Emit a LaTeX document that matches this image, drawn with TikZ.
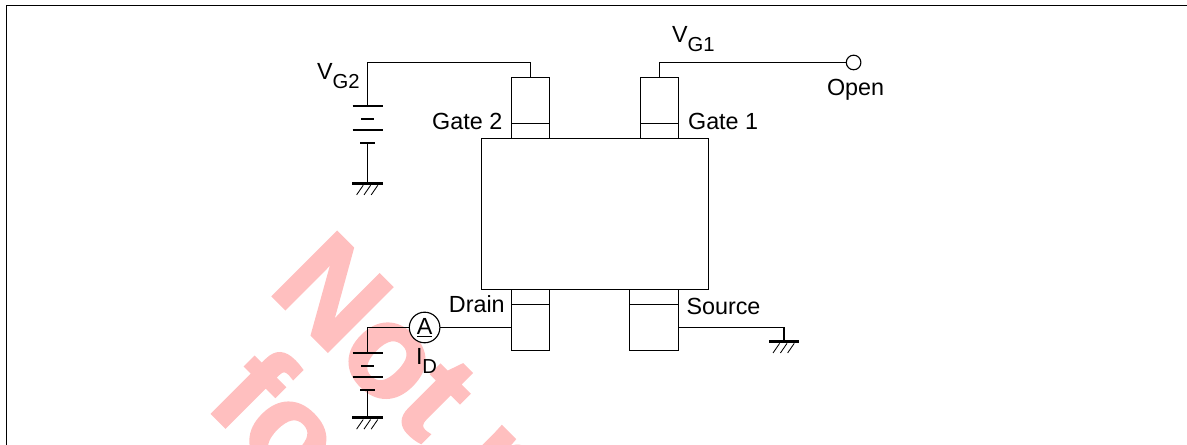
\documentclass[tikz,border=0pt]{standalone}
\usepackage{fontspec}
\setmainfont{Liberation Sans}
\newfontfamily\stampfont[UprightFont=* Bold, FakeBold=2.5]{Liberation Sans}
\usetikzlibrary{positioning}
\definecolor{stamp}{HTML}{FFBFBF}
\newcommand{\lowered}[1]{\raisebox{-6pt}{\fontsize{14.4}{16}\selectfont #1}}
\tikzset{
  wire/.style={line width=.8pt},
  chip/.style={rectangle, draw=black, line width=.8pt, minimum width=5.675cm, minimum height=3.775cm, inner sep=0, outer sep=0},
  pin/.style={rectangle, draw=black, line width=.8pt, minimum width=.95cm, inner sep=0, outer sep=0},
  tag/.style={inner sep=0, outer sep=0, font=\fontsize{16.6}{20}\selectfont},
  meter/.style={circle, draw=black, fill=white, line width=.8pt, minimum size=.765cm, inner sep=0, outer sep=0, font=\fontsize{16.6}{20}\selectfont},
  terminal/.style={circle, draw=black, line width=.8pt, minimum size=.365cm, inner sep=0, outer sep=0},
  stamptext/.style={text=stamp, rotate=-45, anchor=base west, inner sep=0, font=\fontsize{93}{110}\stampfont},
  battery/.style={
    minimum width=.75cm, minimum height=.91cm, inner sep=0, outer sep=0, append after command={
      \pgfextra{
        \draw[line width=1.4pt] (\tikzlastnode.north west) -- (\tikzlastnode.north east);
        \draw[line width=1.4pt] (\tikzlastnode.north) ++(-.16,-.31) -- ++(.32,0);
        \draw[line width=1.4pt] (\tikzlastnode.north west) ++(0,-.6) -- ++(.75,0);
        \draw[line width=1.4pt] (\tikzlastnode.south) ++(-.19,0) -- ++(.38,0);
      }
    }
  },
  ground/.style={
    rectangle, fill=black, minimum width=.77cm, minimum height=.085cm, inner sep=0, outer sep=0, append after command={
      \pgfextra{
        \foreach \x in {-.275,-.09,.09} {
          \draw[line width=.6pt] (\tikzlastnode.south) ++(\x,-.24) -- ++(.165,.24);
        }
      }
    }
  }
}

\begin{document}
\begin{tikzpicture}
\useasboundingbox (0,0) rectangle (29.675,11.125);

\begin{scope}
\clip (0,0) rectangle (29.675,11.125);
\node (stampOne) [stamptext] at (6.68,3.875) {Not r};
\node (stampTwo) [stamptext] at (5.1,1.0) {fo};
\end{scope}

\coordinate (frameBL) at (.1625,0);
\coordinate (frameTR) at (29.675,10.9875);
\draw [wire] (frameBL) |- (frameTR);

\node (body) [chip] at (14.875,5.775) {};

% pins
\node (gateTwoFoot) [pin, minimum height=.375cm, above right=0cm and .75cm of body.north west] {};
\node (gateTwo) [pin, minimum height=1.15cm, above=0cm of gateTwoFoot] {};
\node (gateOneFoot) [pin, minimum height=.375cm, above right=0cm and 3.975cm of body.north west] {};
\node (gateOne) [pin, minimum height=1.15cm, above=0cm of gateOneFoot] {};
\node (drainFoot) [pin, minimum height=.375cm, below right=0cm and .75cm of body.south west] {};
\node (drain) [pin, minimum height=1.15cm, below=0cm of drainFoot] {};
\node (sourceFoot) [pin, minimum width=1.225cm, minimum height=.375cm, below right=0cm and 3.7cm of body.south west] {};
\node (source) [pin, minimum width=1.225cm, minimum height=1.15cm, below=0cm of sourceFoot] {};

\node (labGateTwo) [tag, left=.23cm of gateTwo.south west, yshift=.05cm] {Gate 2};
\node (labGateOne) [tag, right=.24cm of gateOne.south east, yshift=.05cm] {Gate 1};
\node (labDrain) [tag, left=.17cm of drain.north west] {Drain};
\node (labSource) [tag, right=.2cm of source.north east, yshift=-.05cm] {Source};

% left side
\node (batteryG) [battery] at (9.19,8.0125) {};
\node (groundG) [ground, below=.98cm of batteryG] {};
\node (batteryD) [battery] at (9.19,1.8375) {};
\node (groundD) [ground, below=.66cm of batteryD] {};
\node (ammeter) [meter, left=1.79cm of drain] {\underline{A}};
\coordinate (cornerG) at (9.19,9.5625);
\node (groundS) [ground] at (19.6,2.5825) {};
\node (open) [terminal] at (21.34,9.5625) {};

\node (labOpen) [tag, below=.24cm of open, xshift=.05cm] {Open};
\node (labVGtwo) [tag, anchor=base west] at (7.925,9.125) {V\lowered{G2}};
\node (labVGone) [tag, anchor=base west] at (16.8,10.05) {V\lowered{G1}};
\node (labID) [tag, anchor=base west] at (10.4,2) {I\lowered{D}};

\draw [wire] (gateTwo.north) |- (cornerG) -- (batteryG.north);
\draw [wire] (batteryG.south) -- (groundG.north);
\draw [wire] (gateOne.north) |- (open);
\draw [wire] (drain) -- (ammeter);
\draw [wire] (ammeter) -| (batteryD.north);
\draw [wire] (batteryD.south) -- (groundD.north);
\draw [wire] (source) -| (groundS.north);

\end{tikzpicture}
\end{document}
